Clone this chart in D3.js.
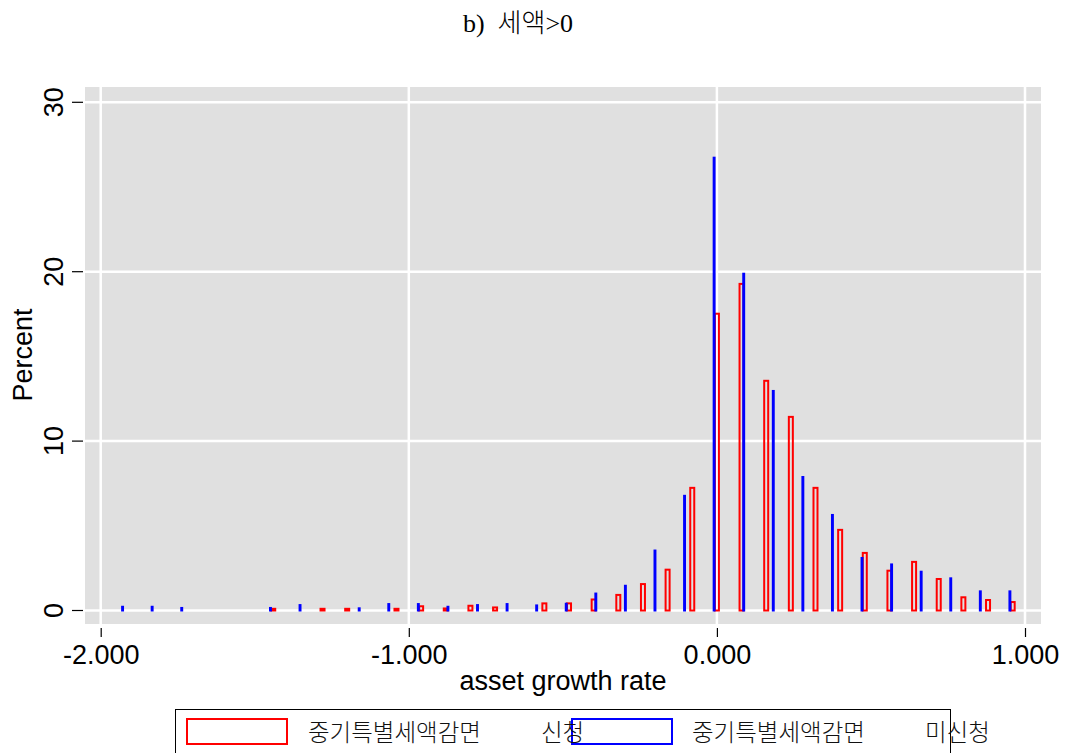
<!DOCTYPE html>
<html>
<head>
<meta charset="utf-8">
<script src="https://cdn.jsdelivr.net/npm/d3@7"></script>
<style>
  body { margin: 0; background: #fff; }
  svg text { font-family: "Liberation Sans", Arial, sans-serif; }
</style>
</head>
<body>
<div id="chart"></div>
<script>
// bin centres and percents
var applyX   = [-1.44, -1.28, -1.20, -1.04, -0.96, -0.88, -0.80, -0.72, -0.56, -0.48, -0.40, -0.32, -0.24, -0.16, -0.08,
                0.00, 0.08, 0.16, 0.24, 0.32, 0.40, 0.48, 0.56, 0.64, 0.72, 0.80, 0.88, 0.96];
var applyPct = [0.10, 0.10, 0.10, 0.10, 0.25, 0.12, 0.28, 0.18, 0.42, 0.42, 0.65, 0.92, 1.56, 2.41, 7.24,
                17.52, 19.28, 13.56, 11.43, 7.24, 4.76, 3.40, 2.35, 2.87, 1.86, 0.78, 0.62, 0.50];

var noneX    = [-1.929, -1.833, -1.737, -1.449, -1.353, -1.161, -1.065, -0.969, -0.873, -0.777, -0.681, -0.585, -0.489, -0.393,
                -0.297, -0.201, -0.105, -0.009, 0.087, 0.183, 0.279, 0.375, 0.471, 0.567, 0.663, 0.759, 0.855, 0.951];
var nonePct  = [0.22, 0.22, 0.15, 0.15, 0.32, 0.13, 0.38, 0.38, 0.22, 0.32, 0.38, 0.30, 0.40, 1.00,
                1.46, 3.54, 6.77, 26.73, 19.88, 12.96, 7.88, 5.64, 3.10, 2.72, 2.29, 1.90, 1.13, 1.13];

var xTicks = [-2, -1, 0, 1];
var yTicks = [0, 10, 20, 30];

var W = 1071, H = 753;
var svg = d3.select("#chart").append("svg").attr("width", W).attr("height", H);

var x = d3.scaleLinear().domain([-2, 1]).range([100.7, 1025]);
var y = d3.scaleLinear().domain([0, 30]).range([610.5, 102.3]);

// plot region
svg.append("rect").attr("x", 85).attr("y", 87).attr("width", 956).attr("height", 537).attr("fill", "#e0e0e0");

// grid
svg.selectAll("line.gy").data(yTicks).enter().append("line")
  .attr("x1", 85).attr("x2", 1041).attr("y1", y).attr("y2", y)
  .attr("stroke", "#fff").attr("stroke-width", 2.5);
svg.selectAll("line.gx").data(xTicks).enter().append("line")
  .attr("y1", 87).attr("y2", 624).attr("x1", x).attr("x2", x)
  .attr("stroke", "#fff").attr("stroke-width", 2.5);

// bars
function bars(xs, vals, w, color) {
  svg.append("g").selectAll("rect").data(xs).enter().append("rect")
    .attr("x", function(d){ return x(d - w/2); })
    .attr("width", function(d){ return x(d + w/2) - x(d - w/2); })
    .attr("y", function(d, i){ return y(vals[i]); })
    .attr("height", function(d, i){ return y(0) - y(vals[i]); })
    .attr("fill", "none").attr("stroke", color).attr("stroke-width", 2);
}
bars(applyX, applyPct, 0.013, "#ff0000");
bars(noneX, nonePct, 0.003, "#0000ff");

// axes
var fmt = d3.format(".3f");
var xAxis = d3.axisBottom(x).tickValues(xTicks)
  .tickFormat(function(d){ return fmt(d).replace("\u2212", "-"); })
  .tickSize(9).tickPadding(8);
var gx = svg.append("g").attr("transform", "translate(0,628)").call(xAxis);
gx.select(".domain").remove();
gx.selectAll("line").attr("stroke", "#000").attr("stroke-width", 1.2);
gx.selectAll("text").attr("font-size", 27).attr("fill", "#000").attr("font-family", "Liberation Sans, Arial, sans-serif");

var yAxis = d3.axisLeft(y).tickValues(yTicks).tickSize(11).tickPadding(8);
var gy = svg.append("g").attr("transform", "translate(83,0)").call(yAxis);
gy.select(".domain").remove();
gy.selectAll("line").attr("stroke", "#000").attr("stroke-width", 1.2);
gy.selectAll("text")
  .attr("font-size", 27).attr("fill", "#000").attr("font-family", "Liberation Sans, Arial, sans-serif")
  .attr("text-anchor", "middle").attr("dy", 0).attr("x", 0)
  .attr("transform", function(d){ return "translate(-20," + y(d) + ") rotate(-90)"; })
  .attr("y", 0);
gy.selectAll(".tick").attr("transform", null);
gy.selectAll(".tick line").attr("y1", function(d){ return y(d); }).attr("y2", function(d){ return y(d); });

// axis titles
svg.append("text").attr("x", 563).attr("y", 690).attr("text-anchor", "middle")
  .attr("font-size", 27).text("asset growth rate");
svg.append("text").attr("transform", "translate(32,355) rotate(-90)").attr("text-anchor", "middle")
  .attr("font-size", 27).text("Percent");

// title
svg.append("text").attr("x", 518).attr("y", 32).attr("text-anchor", "middle")
  .attr("font-size", 26).style("font-family", "'Liberation Serif', 'Noto Sans CJK KR', serif")
  .style("font-weight", 300)
  .attr("xml:space", "preserve").text("b)  세액>0");

// legend
var lg = svg.append("g");
lg.append("rect").attr("x", 175.5).attr("y", 709.5).attr("width", 775).attr("height", 70)
  .attr("fill", "#fff").attr("stroke", "#000").attr("stroke-width", 1);
var keys = [{c: "#ff0000", kx: 187, parts: ["중기특별세액감면", "신청"], px: [308, 541]},
            {c: "#0000ff", kx: 572, parts: ["중기특별세액감면", "미신청"], px: [692, 925]}];
keys.forEach(function(k){
  lg.append("rect").attr("x", k.kx).attr("y", 719).attr("width", 100).attr("height", 25)
    .attr("fill", "none").attr("stroke", k.c).attr("stroke-width", 2);
});
keys.forEach(function(k){
  k.parts.forEach(function(p, j){
    lg.append("text").attr("x", k.px[j]).attr("y", 741).attr("font-size", 23.5)
      .style("font-family", "'Noto Sans CJK KR', sans-serif").style("font-weight", 300)
      .attr("fill", "#111").text(p);
  });
});
</script>
</body>
</html>
